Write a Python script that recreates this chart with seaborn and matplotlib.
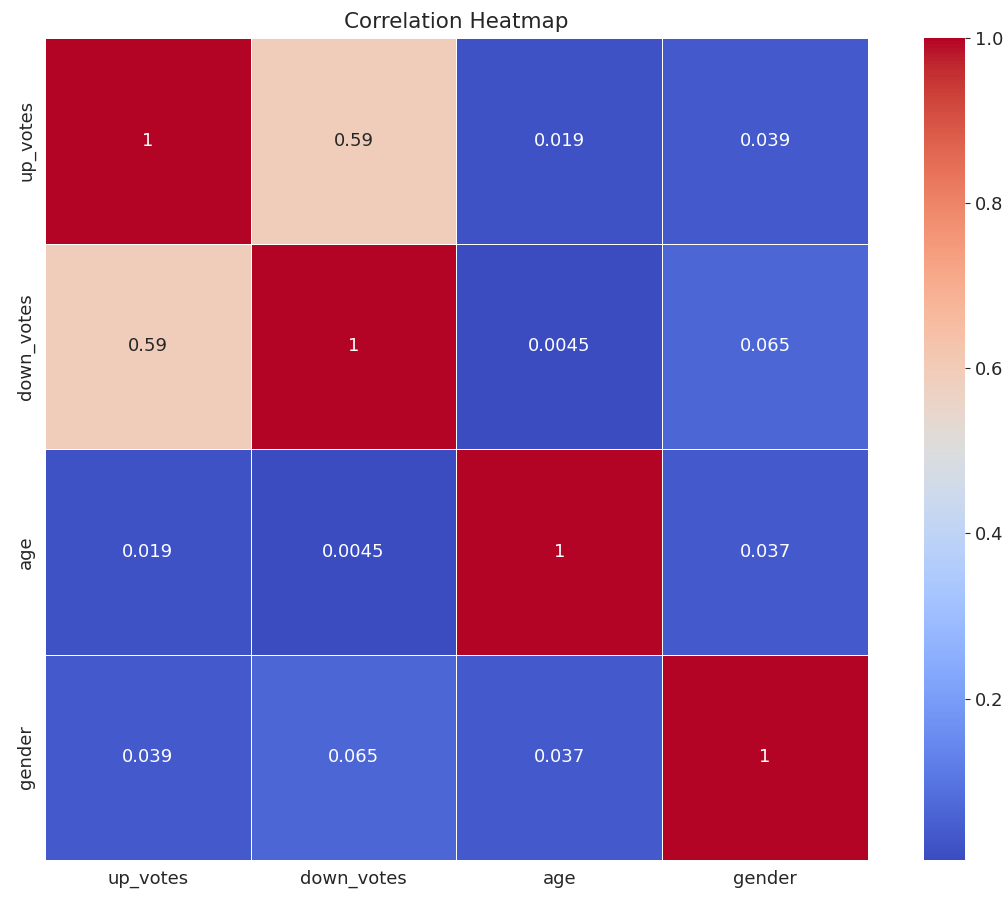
import numpy as np
import pandas as pd
import matplotlib
matplotlib.use("Agg")
import matplotlib.pyplot as plt
import seaborn as sns

labels = ["up_votes", "down_votes", "age", "gender"]
row_up_votes = [1.0, 0.59, 0.019, 0.039]
row_down_votes = [0.59, 1.0, 0.0045, 0.065]
row_age = [0.019, 0.0045, 1.0, 0.037]
row_gender = [0.039, 0.065, 0.037, 1.0]

corr = pd.DataFrame([row_up_votes, row_down_votes, row_age, row_gender],
                    index=labels, columns=labels)

sns.set_style("white")
plt.rcParams["font.family"] = ["DejaVu Sans"]

fig = plt.figure(figsize=(10.08, 8.97), dpi=100)
ax = fig.add_axes([0.0446, 0.0412, 0.8165, 0.9164])
cax = fig.add_axes([0.917, 0.0412, 0.0407, 0.9164])

sns.heatmap(corr, annot=True, cmap="coolwarm", linewidths=0.5, linecolor="white",
            ax=ax, cbar_ax=cax, annot_kws={"fontsize": 13})
ax.set_title("Correlation Heatmap", fontsize=15.5, pad=7.5)
ax.tick_params(axis="both", labelsize=13)
ax.set_yticklabels(labels, rotation=90, va="center")
cax.tick_params(labelsize=13)

fig.savefig("out.png", dpi=100)
